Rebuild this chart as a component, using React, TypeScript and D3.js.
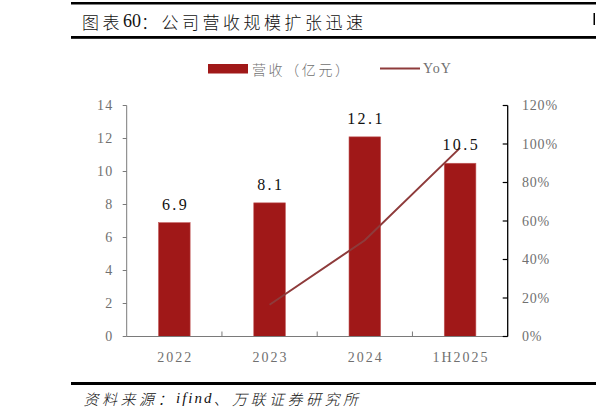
import React from "react";
import * as d3 from "d3";

const categories = ["2022", "2023", "2024", "1H2025"];
const revenue = [6.9, 8.1, 12.1, 10.5];
const revenueLabels = ["6.9", "8.1", "12.1", "10.5"];
const yoyCategories = ["2023", "2024", "1H2025"];
const yoy = [0.165, 0.5, 0.98];
const leftTicks = [0, 2, 4, 6, 8, 10, 12, 14];
const rightTicks = [0, 0.2, 0.4, 0.6, 0.8, 1.0, 1.2];

const W = 596;
const H = 419;
const X0 = 126.7;
const X1 = 507.7;
const YB = 336.5;
const YT = 105.5;

const BAR = "#A01818";
const LINE = "#8E3B3B";
const GRAY = "#7a7a7a";
const TXT = "#707070";
const SERIF = "'Liberation Serif', 'DejaVu Serif', serif";
const CJK = "'Noto Sans CJK SC', sans-serif";

export default function App() {
  const x = d3
    .scaleBand<string>()
    .domain(categories)
    .range([X0, X1])
    .paddingInner(0.668)
    .paddingOuter(0.334);
  const yL = d3.scaleLinear().domain([0, 14]).range([YB, YT]);
  const yR = d3.scaleLinear().domain([0, 1.2]).range([YB, YT]);
  const step = x.step();
  const bw = x.bandwidth();
  const cx = (c: string) => (x(c) as number) + bw / 2;

  const line = d3
    .line<number>()
    .x((_, i) => cx(yoyCategories[i]))
    .y((d) => yR(d));

  const pct = d3.format(".0%");

  return (
    <svg
      width={W}
      height={H}
      style={{ position: "absolute", left: 0, top: 0, background: "#fff" }}
    >
      {/* header rules */}
      <rect x={71} y={2} width={W - 71} height={2.5} fill="#000" />
      <rect x={71} y={36} width={W - 71} height={2.8} fill="#000" />
      <text
        x={82}
        y={21}
        dominantBaseline="central"
        fontFamily={CJK}
        fontWeight={300}
        fontSize={17}
        letterSpacing={3.5}
        fill="#111"
      >
        图表
        <tspan fontFamily={SERIF} fontSize={18} letterSpacing={0}>
          60
        </tspan>
        ：公司营收规模扩张迅速
      </text>
      <rect x={593.5} y={13} width={1.5} height={12} fill="#000" />

      {/* legend */}
      <rect x={208} y={64} width={40} height={9.5} fill={BAR} />
      <text
        x={252}
        y={68.5}
        dominantBaseline="central"
        fontFamily={CJK}
        fontWeight={300}
        fontSize={14}
        letterSpacing={2.6}
        fill={TXT}
      >
        营收（亿元）
      </text>
      <line x1={380} x2={420} y1={68.5} y2={68.5} stroke={LINE} strokeWidth={2} />
      <text
        x={423}
        y={68.5}
        dominantBaseline="central"
        fontFamily={SERIF}
        fontSize={14}
        letterSpacing={1}
        fill={TXT}
      >
        YoY
      </text>

      {/* bars */}
      {categories.map((c, i) => (
        <rect
          key={c}
          x={x(c)}
          y={yL(revenue[i])}
          width={bw}
          height={YB - yL(revenue[i])}
          fill={BAR}
          stroke="#c25a5a"
          strokeWidth={0.6}
        />
      ))}

      {/* axes */}
      <line x1={X0} x2={X0} y1={YT} y2={YB} stroke={GRAY} strokeWidth={1} />
      {leftTicks.map((t) => (
        <g key={t}>
          <line x1={X0 - 4} x2={X0} y1={yL(t)} y2={yL(t)} stroke={GRAY} />
          <text
            x={113.5}
            y={yL(t)}
            textAnchor="end"
            dominantBaseline="central"
            fontFamily={SERIF}
            fontSize={14}
            letterSpacing={1.2}
            fill={TXT}
          >
            {t}
          </text>
        </g>
      ))}
      <line x1={X0} x2={X1} y1={YB} y2={YB} stroke={GRAY} strokeWidth={1} />
      {[1, 2, 3].map((i) => (
        <line
          key={i}
          x1={X0 + i * step}
          x2={X0 + i * step}
          y1={YB}
          y2={YB - 5}
          stroke={GRAY}
        />
      ))}
      {categories.map((c) => (
        <text
          key={c}
          x={cx(c) + 1}
          y={357}
          textAnchor="middle"
          dominantBaseline="central"
          fontFamily={SERIF}
          fontSize={14}
          letterSpacing={2}
          fill={TXT}
        >
          {c}
        </text>
      ))}
      <line x1={X1} x2={X1} y1={YT} y2={YB} stroke="#000" strokeWidth={1.3} />
      {rightTicks.map((t) => (
        <g key={t}>
          <line x1={X1 - 5} x2={X1} y1={yR(t)} y2={yR(t)} stroke="#000" strokeWidth={1.2} />
          <text
            x={522}
            y={yR(t)}
            dominantBaseline="central"
            fontFamily={SERIF}
            fontSize={14}
            letterSpacing={0.8}
            fill={TXT}
          >
            {pct(t)}
          </text>
        </g>
      ))}

      {/* yoy line */}
      <path d={line(yoy) || ""} fill="none" stroke={LINE} strokeWidth={2} />

      {/* data labels */}
      {categories.map((c, i) => (
        <text
          key={c}
          x={cx(c) + 1.2}
          y={yL(revenue[i]) - 13}
          textAnchor="middle"
          fontFamily={SERIF}
          fontSize={16}
          letterSpacing={2.4}
          fill="#111"
        >
          {revenueLabels[i]}
        </text>
      ))}

      {/* footer */}
      <rect x={71} y={382} width={W - 71} height={3} fill="#000" />
      <text
        x={83.5}
        y={398}
        dominantBaseline="central"
        fontFamily={CJK}
        fontWeight={300}
        fontSize={15}
        fontStyle="italic"
        letterSpacing={3.5}
        fill="#111"
      >
        资料来源：
        <tspan fontFamily={SERIF} fontWeight={400} letterSpacing={2}>
          ifind
        </tspan>
        、万联证券研究所
      </text>
    </svg>
  );
}
